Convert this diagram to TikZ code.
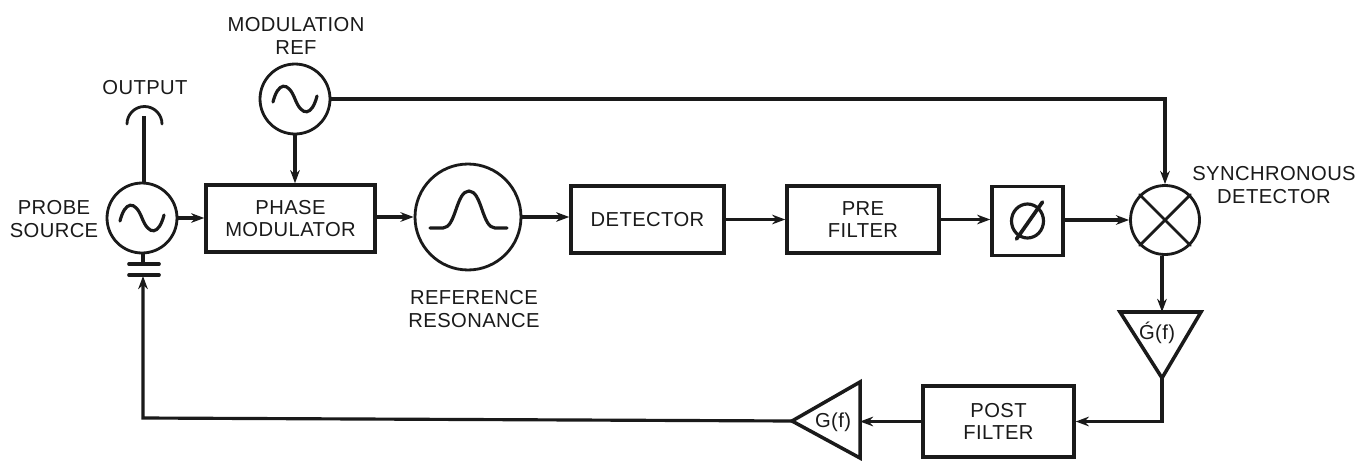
\documentclass[tikz,border=0pt]{standalone}
\usepackage{fontspec}
\setmainfont[LetterSpace=2]{Liberation Sans}
\usetikzlibrary{arrows.meta,calc}
\definecolor{ink}{HTML}{1A1A1A}
\tikzset{
 x=0.02cm,y=-0.02cm,
 wire/.style={draw=ink,line width=1.8pt},
 flow/.style={wire,-{Stealth[length=7.5pt,width=5.5pt]}},
 boxnode/.style={draw=ink,line width=2pt,fill=white,inner sep=0pt,align=center,font=\fontsize{11.5}{12.6}\selectfont,text=ink},
 circ/.style={draw=ink,line width=1.6pt,circle,fill=white,inner sep=0pt},
 lab/.style={align=center,font=\fontsize{11.5}{12.6}\selectfont,text=ink,inner sep=0pt},
 sym/.style={draw=ink,line width=1.6pt,line cap=round},
}
\begin{document}
\begin{tikzpicture}
\useasboundingbox[fill=white] (0,0) rectangle (1366,460);
% nodes
\node[circ,minimum size=1.4cm] (probe) at (142,218) {};
\node[circ,minimum size=1.4cm] (mref) at (295,99) {};
\node[circ,minimum size=2.12cm] (res) at (468,217) {};
\node[circ,minimum size=1.38cm] (mix) at (1165,220) {};
\node[boxnode,minimum width=3.38cm,minimum height=1.34cm] (pm) at (290.5,218.5) {PHASE\\MODULATOR};
\node[boxnode,minimum width=3.06cm,minimum height=1.34cm] (det) at (647.5,219.5) {DETECTOR};
\node[boxnode,minimum width=3.04cm,minimum height=1.34cm] (pre) at (863,219.5) {PRE\\FILTER};
\node[boxnode,minimum width=1.42cm,minimum height=1.38cm] (phi) at (1027.5,221) {};
\node[boxnode,minimum width=3.02cm,minimum height=1.42cm] (post) at (998.5,421.5) {POST\\FILTER};
% triangles
\coordinate (t1a) at (1120,312); \coordinate (t1b) at (1201,312); \coordinate (t1c) at (1162,378);
\draw[draw=ink,line width=2pt,line join=miter] (t1a) -- (t1b) -- (t1c) -- cycle;
\coordinate (t2a) at (860,382); \coordinate (t2b) at (860,458); \coordinate (t2c) at (792,421);
\draw[draw=ink,line width=2pt,line join=miter] (t2a) -- (t2b) -- (t2c) -- cycle;
\node[lab] (g1) at (1157,333) {\'G(f)};
\node[lab] (g2) at (833,422) {G(f)};
% sine symbols
\foreach \c in {probe,mref}{
 \draw[sym,line width=1.8pt] (\c) ++(-22,3) .. controls +(5,-20) and +(-7,-18) .. ++(22,-3) .. controls +(7,18) and +(-5,20) .. ++(22,-3);
}
% resonance
\draw[sym,line width=1.8pt] (430,228) -- (443,228) .. controls (456,228) and (456,191) .. (469,191) .. controls (482,191) and (482,228) .. (495,228) -- (507,228);
% mixer cross
\draw[sym] (mix.45) -- (mix.225);
\draw[sym] (mix.135) -- (mix.315);
% phi
\draw[sym,line width=1.8pt] (phi) ellipse (16 and 17);
\draw[sym,line width=2.1pt] ($(phi)+(-11,18)$) -- ($(phi)+(15,-19)$);
% output antenna
\coordinate (ant) at (144,116);
\coordinate (antfoot) at (144,183);
\draw[sym] (127,124) arc[start angle=180,end angle=360,radius=17.5];
\draw[wire] (antfoot) -- (ant);
% capacitor
\coordinate (capA) at (143,264);
\coordinate (capB) at (143,276);
\coordinate (corner) at (143,418);
\draw[wire] (probe.south -| capA) -- (capA);
\draw[sym,line width=2.1pt] (129,264) -- (159,264);
\draw[sym,line width=2.1pt] (129,275) -- (159,275);
% connectors
\draw[flow] (mref.south) -- (pm.north -| mref.south);
\draw[flow] (probe.east) -- (pm.west |- probe.east);
\draw[flow] (pm.east |- res.west) -- (res.west);
\draw[flow] (res.east) -- (det.west |- res.east);
\draw[flow] (det.east) -- (pre.west);
\draw[flow] (pre.east) -- (phi.west |- pre.east);
\draw[flow] (phi.east |- mix.west) -- (mix.west);
\draw[flow] (mref.east) -| (mix.north);
\draw[flow] (mix.south -| t1c) -- (t1c |- t1a);
\draw[flow] (t1c) |- (post.east);
\draw[flow] (post.west) -- (t2a |- post.west);
\draw[flow] (t2c) -- (corner) -- (capB);
% labels
\node[lab] (l1) at (296,36) {MODULATION\\REF};
\node[lab] (l2) at (145,88) {OUTPUT};
\node[lab] (l3) at (54,219) {PROBE\\SOURCE};
\node[lab] (l4) at (474,309) {REFERENCE\\RESONANCE};
\node[lab] (l5) at (1274,185) {SYNCHRONOUS\\DETECTOR};
\end{tikzpicture}
\end{document}
